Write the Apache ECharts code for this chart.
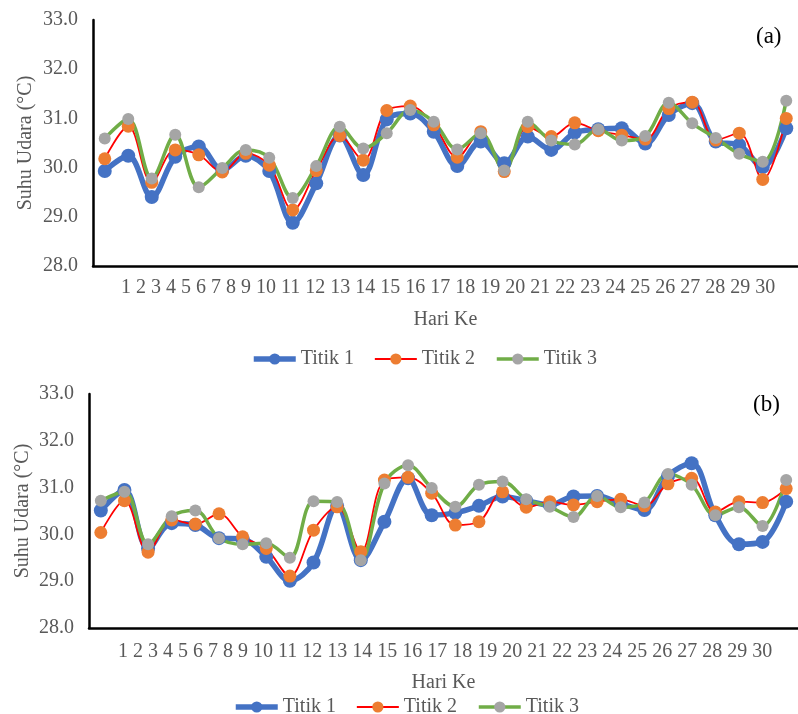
<!DOCTYPE html>
<html>
<head>
<meta charset="utf-8">
<script src="https://cdn.jsdelivr.net/npm/echarts@6/dist/echarts.min.js"></script>
<style>
  html, body { margin: 0; padding: 0; background: #ffffff; }
  #chart { width: 798px; height: 714px; }
</style>
</head>
<body>
<div id="chart"></div>
<script>
// Day numbers along the horizontal axis
const days = ['1','2','3','4','5','6','7','8','9','10','11','12','13','14','15','16','17','18','19','20','21','22','23','24','25','26','27','28','29','30'];
const seriesNames = ['Titik 1', 'Titik 2', 'Titik 3'];
const yTicks = [28, 29, 30, 31, 32, 33];

// Panel (a): air temperature (°C) per measuring point
const aTitik1 = [29.93,30.24,29.40,30.22,30.43,29.95,30.24,29.93,28.88,29.68,30.65,29.85,30.98,31.10,30.73,30.03,30.53,30.09,30.63,30.36,30.71,30.78,30.80,30.49,31.07,31.31,30.53,30.46,30.01,30.80];
const aTitik2 = [30.18,30.84,29.70,30.36,30.26,29.91,30.29,30.05,29.14,29.94,30.65,30.15,31.16,31.25,30.87,30.21,30.73,29.92,30.83,30.63,30.91,30.75,30.66,30.58,31.20,31.33,30.56,30.70,29.76,31.00];
const aTitik3 = [30.59,30.99,29.78,30.67,29.60,29.99,30.36,30.20,29.38,30.03,30.83,30.39,30.70,31.17,30.93,30.37,30.70,29.94,30.93,30.55,30.47,30.78,30.55,30.64,31.32,30.90,30.60,30.28,30.12,31.36];

// Panel (b): air temperature (°C) per measuring point
const bTitik1 = [30.51,30.95,29.70,30.24,30.20,29.92,29.90,29.52,29.01,29.40,30.61,29.45,30.27,31.20,30.41,30.46,30.61,30.81,30.72,30.63,30.81,30.82,30.66,30.52,31.25,31.52,30.41,29.79,29.84,30.70];
const bTitik2 = [30.04,30.72,29.62,30.31,30.22,30.44,29.95,29.70,29.11,30.09,30.59,29.63,31.16,31.22,30.88,30.20,30.27,30.91,30.58,30.70,30.63,30.70,30.75,30.61,31.08,31.20,30.48,30.70,30.68,30.98];
const bTitik3 = [30.72,30.91,29.79,30.39,30.51,29.92,29.79,29.81,29.50,30.71,30.69,29.45,31.09,31.48,30.99,30.59,31.06,31.13,30.75,30.59,30.37,30.82,30.58,30.68,31.29,31.06,30.41,30.58,30.18,31.16];

const FONT = 'Liberation Serif';
const TXT = '#595959';

const styles = [
  { line: '#4472C4', width: 5.5, marker: '#4472C4', size: 14 },
  { line: '#FF0000', width: 1.8, marker: '#ED7D31', size: 13 },
  { line: '#70AD47', width: 3.5, marker: '#A5A5A5', size: 12 }
];

function makeSeries(name, data, idx, st) {
  return {
    name: name,
    type: 'line',
    xAxisIndex: idx,
    yAxisIndex: idx,
    data: data,
    smooth: 0.35,
    symbol: 'circle',
    symbolSize: st.size,
    lineStyle: { color: st.line, width: st.width },
    itemStyle: { color: st.marker, borderWidth: 0 },
    emphasis: { disabled: true },
    animation: false
  };
}

function yAxis(idx, gap) {
  return {
    type: 'value',
    gridIndex: idx,
    min: yTicks[0],
    max: yTicks[yTicks.length - 1],
    interval: 1,
    name: 'Suhu Udara (°C)',
    nameLocation: 'middle',
    nameGap: gap,
    nameMoveOverlap: false,
    nameTextStyle: { fontFamily: FONT, fontSize: 20, color: TXT },
    axisLine: { show: true, lineStyle: { color: '#000000', width: 2.5 } },
    axisTick: { show: false },
    splitLine: { show: false },
    axisLabel: {
      margin: 15,
      fontFamily: FONT, fontSize: 20, color: TXT,
      formatter: v => v.toFixed(1)
    }
  };
}

function xAxis(idx, gap) {
  return {
    type: 'category',
    gridIndex: idx,
    data: days,
    boundaryGap: true,
    name: 'Hari Ke',
    nameLocation: 'middle',
    nameGap: gap,
    nameMoveOverlap: false,
    nameTextStyle: { fontFamily: FONT, fontSize: 20, color: TXT },
    axisLine: { show: true, lineStyle: { color: '#000000', width: 2.5 } },
    axisTick: { show: false },
    axisLabel: { show: false },
    splitLine: { show: false }
  };
}

function legend(left, top) {
  return {
    data: seriesNames.map((n, i) => ({
      name: n,
      itemStyle: { color: styles[i].marker },
      lineStyle: { color: styles[i].line, width: styles[i].width }
    })),
    left: left,
    top: top,
    itemWidth: 42,
    itemHeight: 14,
    itemGap: 20,
    textStyle: { fontFamily: FONT, fontSize: 20, color: TXT }
  };
}

// Day numbers written as one line of text under each panel
function dayText(x, y) {
  return {
    type: 'text',
    left: x,
    top: y,
    style: {
      text: days.join(' '),
      font: '20px "' + FONT + '"',
      fill: TXT
    },
    silent: true
  };
}

function panelTag(label, x, y) {
  return {
    type: 'text',
    left: x,
    top: y,
    style: { text: label, font: '23px "' + FONT + '"', fill: '#000000' },
    silent: true
  };
}

const chart = echarts.init(document.getElementById('chart'), null, { renderer: 'canvas' });

chart.setOption({
  backgroundColor: '#ffffff',
  animation: false,
  grid: [
    { left: 93, top: 20, width: 714, height: 246 },
    { left: 89, top: 394, width: 717, height: 234 }
  ],
  xAxis: [xAxis(0, 44), xAxis(1, 45)],
  yAxis: [yAxis(0, 57), yAxis(1, 56)],
  legend: [legend(246, 344), legend(228, 692)],
  graphic: [
    dayText(121, 278),
    dayText(118, 642),
    panelTag('(a)', 756, 25),
    panelTag('(b)', 753, 393)
  ],
  series: [
    makeSeries(seriesNames[0], aTitik1, 0, styles[0]),
    makeSeries(seriesNames[1], aTitik2, 0, styles[1]),
    makeSeries(seriesNames[2], aTitik3, 0, styles[2]),
    makeSeries(seriesNames[0], bTitik1, 1, styles[0]),
    makeSeries(seriesNames[1], bTitik2, 1, styles[1]),
    makeSeries(seriesNames[2], bTitik3, 1, styles[2])
  ]
});
</script>
</body>
</html>
